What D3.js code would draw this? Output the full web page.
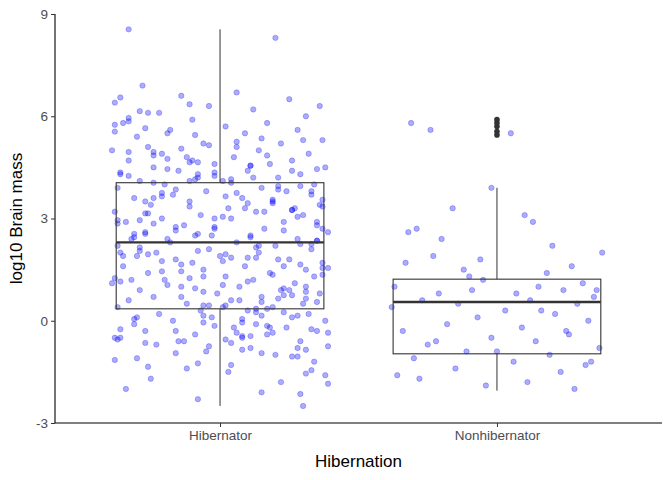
<!DOCTYPE html><html><head><script src="https://cdn.jsdelivr.net/npm/d3@7"></script>
<style>body{margin:0;background:#fff}text{font-family:"Liberation Sans",Arial,sans-serif}</style></head><body><svg id="c" width="672" height="480"></svg>
<script>
const categories=["Hibernator","Nonhibernator"];
const yTicks=[-3,0,3,6,9];
const boxStats=[[-2.5,0.35,2.3,4.05,8.55],[-2.05,-0.97,0.55,1.22,3.9]];
const outliers=[[],[5.9,5.8,5.7,5.55,5.45]];
const hibY=[8.55,8.3,6.9,6.7,6.6,6.5,6.4,6.3,6.3,6.2,6.1,6.0,5.9,5.8,5.8,5.7,5.6,5.5,5.5,5.4,5.3,5.2,5.2,5.1,5.0,5.0,4.9,4.8,4.8,4.7,4.7,4.6,4.6,4.5,4.5,4.4,4.4,4.3,4.3,4.2,4.2,4.1,4.1,4.0,4.0,3.9,3.9,3.8,3.8,3.7,3.7,3.6,3.6,3.5,3.5,3.4,3.4,3.3,3.3,3.2,3.2,3.1,3.1,3.0,3.0,2.9,2.9,2.8,2.8,2.7,2.7,2.6,2.6,2.5,2.5,2.4,2.4,2.3,2.3,2.2,2.2,2.1,2.1,2.0,2.0,1.9,1.9,1.8,1.8,1.7,1.7,1.6,1.6,1.5,1.5,1.4,1.4,1.3,1.3,1.2,1.2,1.1,1.1,1.0,1.0,0.9,0.9,0.8,0.8,0.7,0.7,0.6,0.6,0.5,0.5,0.4,0.4,0.3,0.3,0.2,0.2,0.1,0.1,0.0,0.0,-0.1,-0.1,-0.2,-0.2,-0.3,-0.3,-0.4,-0.4,-0.5,-0.5,-0.6,-0.6,-0.7,-0.8,-0.9,-1.0,-1.1,-1.2,-1.4,-1.5,-1.7,-1.8,-2.0,-2.1,-2.3,-2.5,5.6,5.1,4.9,4.4,4.1,3.8,3.5,3.3,3.0,2.7,2.4,2.2,1.9,1.6,1.3,1.0,0.7,0.4,0.1,-0.2,-0.5,-0.8,4.7,4.2,3.6,2.9,2.5,1.8,1.2,0.6,-0.3,6.1,5.3,4.3,3.2,2.0,0.9,-0.6,-1.3,-1.6];
const hibY2=[4.55,3.15,2.35,0.45,-0.35,5.75,1.85,3.95,-0.95,2.65,4.25,0.05,1.45,3.55,-0.15,5.35,2.95,0.85,4.65,-0.55,1.15,3.25,2.05,0.25,4.85,-0.75,1.65,3.75,2.45,0.65,5.15,-0.25,1.05,3.45,2.85,-1.05,4.15,0.35,1.95,3.05,-0.45,2.55,4.45,0.15,1.35,5.55,-0.65,2.25,3.85,0.95,4.95,-0.05,1.75,3.35,2.75,0.55,6.15,-0.85,1.25,3.65,4.35,0.75,-1.25,2.15,4.05,1.55,5.05,-0.35,2.55,3.95,0.45,-1.45,4.75,1.85,2.95,0.15,5.45,-0.15,3.15,1.05,4.55,-0.65,2.35,0.85,3.55,-1.15,4.15,1.65,2.65,0.25,5.85,-0.45,3.75,1.35,4.25,-0.95,2.05,0.65,6.35,1.95,-0.25,3.25,4.65,0.35,2.85,-1.85,1.45,5.25,0.05,3.85,-0.75,2.25,4.45,1.15,-0.55,3.05,0.95,4.85,-1.35,1.75,2.45,5.65,0.55,-0.05,3.45,1.25,4.05,-2.15,2.75,0.75,5.95,-0.85,3.65,1.55,4.35,0.15,2.15,-1.55,3.35,0.45,6.55,-1.05,2.55,1.85,4.95,-0.35];
const hibJ=[-0.33,0.2,-0.28,0.06,-0.14,0.25,-0.38,0.36,-0.04,0.12,-0.22,0.31,-0.1,0.17,-0.35,0.02,0.28,-0.19,0.09,-0.3,0.37,-0.06,0.22,-0.26,0.14,-0.39,0.32,-0.12,0.05,-0.33,0.26,-0.02,0.18,-0.24,0.38,-0.15,0.1,-0.36,0.29,-0.08,0.21,-0.29,0.01,0.34,-0.2,0.15,-0.37,0.24,-0.05,0.33,-0.17,0.08,-0.31,0.19,-0.11,0.36,-0.25,0.03,0.27,-0.38,0.13,-0.07,0.3,-0.21,0.04,-0.34,0.23,-0.13,0.35,-0.02,0.16,-0.27,0.39,-0.09,0.11,-0.32,0.28,-0.18,0.06,-0.37,0.2,-0.04,0.33,-0.23,0.14,-0.3,0.0,0.25,-0.16,0.37,-0.1,0.09,-0.35,0.31,-0.06,0.18,-0.26,0.02,0.34,-0.2,0.12,-0.39,0.27,-0.14,0.07,-0.29,0.22,-0.01,0.36,-0.24,0.15,-0.33,0.04,0.3,-0.12,0.19,-0.37,0.1,-0.07,0.32,-0.22,0.26,-0.03,0.38,-0.17,0.13,-0.31,0.05,0.24,-0.27,0.35,-0.09,0.17,-0.36,0.08,-0.15,0.29,-0.23,0.11,-0.05,0.2,-0.3,0.34,-0.12,0.03,-0.25,0.22,-0.34,0.15,-0.08,0.3,-0.18,0.06,-0.21,0.26,-0.11,0.33,-0.27,0.09,-0.02,0.37,-0.19,0.14,-0.35,0.23,-0.06,0.31,-0.14,0.01,-0.3,0.18,-0.38,0.28,-0.1,0.12,-0.24,0.35,-0.03,0.21,-0.32,0.07,-0.16,-0.26,0.3,-0.08,0.16,-0.36,0.25,-0.13,0.04,0.38,0.34,-0.2,0.1,-0.29,0.27,-0.05,0.2,-0.37,0.08];
const hibJ2=[0.11,-0.27,0.35,-0.06,0.19,-0.38,0.04,0.29,-0.16,0.23,-0.33,0.08,-0.21,0.37,-0.02,0.15,-0.29,0.31,-0.11,0.02,-0.36,0.26,-0.08,0.13,-0.24,0.39,-0.14,0.06,-0.31,0.21,-0.04,0.33,-0.19,0.1,-0.37,0.28,-0.09,0.17,-0.26,0.01];
const nonY=[5.8,5.6,5.5,3.9,3.3,3.1,2.9,2.7,2.6,2.4,2.0,1.9,1.7,1.6,1.5,1.4,1.2,1.1,1.0,1.0,0.9,0.9,0.8,0.8,0.7,0.6,0.6,0.5,0.5,0.4,0.3,0.2,0.1,0.0,-0.1,-0.2,-0.3,-0.4,-0.5,-0.6,-0.7,-0.8,-0.9,-1.0,-1.1,-1.2,-1.3,-1.4,-1.5,-1.6,-1.8,-1.9,-2.0,-1.2,-0.6,0.3,1.3,2.2,-1.7,0.9,-0.9,1.8,-0.3];
const nonJ=[-0.31,-0.24,0.05,-0.02,-0.16,0.1,0.13,-0.29,-0.32,-0.2,0.38,-0.23,-0.33,0.27,-0.12,0.18,-0.05,0.31,-0.37,0.15,-0.09,0.24,-0.21,0.07,0.35,-0.27,0.12,-0.14,0.29,-0.38,0.03,0.21,-0.07,0.33,-0.18,0.09,-0.34,0.26,-0.02,0.14,-0.25,0.37,-0.11,0.19,-0.3,0.06,0.32,-0.15,0.23,-0.36,0.11,-0.04,0.28,0.34,-0.22,0.16,-0.1,0.2,-0.28,0.36,0.0,-0.06,0.25];
const svg=d3.select("#c"),W=672,H=480,m={l:55,r:10,t:14,b:57};
const y=d3.scaleLinear().domain([-3,9]).range([H-m.b,m.t]);
const x=d3.scalePoint().domain(categories).range([m.l,W-m.r]).padding(0.596);
const step=x.step();
const pts=[];
hibY.forEach((v,i)=>pts.push({c:0,y:v,j:hibJ[i%hibJ.length]}));
hibY2.forEach((v,i)=>pts.push({c:0,y:v,j:hibJ2[i%hibJ2.length]}));
nonY.forEach((v,i)=>pts.push({c:1,y:v,j:nonJ[i%nonJ.length]}));
svg.append("g").selectAll("circle").data(pts).join("circle")
 .attr("cx",d=>x(categories[d.c])+d.j*step).attr("cy",d=>y(d.y)).attr("r",2.7)
 .attr("fill","rgba(0,0,255,0.33)").attr("stroke","rgba(0,0,220,0.4)").attr("stroke-width",0.6);
const bw=0.75*step;
boxStats.forEach((s,i)=>{
 const cx=x(categories[i]),g=svg.append("g").attr("stroke","#333").attr("fill","none");
 g.append("line").attr("x1",cx).attr("x2",cx).attr("y1",y(s[0])).attr("y2",y(s[1]));
 g.append("line").attr("x1",cx).attr("x2",cx).attr("y1",y(s[3])).attr("y2",y(s[4]));
 g.append("rect").attr("x",cx-bw/2).attr("width",bw).attr("y",y(s[3])).attr("height",y(s[1])-y(s[3])).attr("stroke-width",1.1);
 g.append("line").attr("x1",cx-bw/2).attr("x2",cx+bw/2).attr("y1",y(s[2])).attr("y2",y(s[2])).attr("stroke-width",2.3);
 outliers[i].forEach(o=>svg.append("circle").attr("cx",cx).attr("cy",y(o)).attr("r",2.8).attr("fill","#333"));
});
const ya=svg.append("g").attr("transform",`translate(${m.l},0)`).call(d3.axisLeft(y).tickValues(yTicks).tickSize(4).tickFormat(d=>String(d)));
const xa=svg.append("g").attr("transform",`translate(0,${H-m.b})`).call(d3.axisBottom(x).tickSize(4).tickSizeOuter(0));
[ya,xa].forEach(a=>{a.select(".domain").attr("stroke","#000").attr("stroke-width",1.1);a.selectAll(".tick line").attr("stroke","#333");a.selectAll("text").attr("fill","#4d4d4d").style("font-size","13.5px");});
ya.select(".domain").attr("d",`M0,${y(-3)}V${m.t}`);
xa.select(".domain").attr("d",`M${m.l},0H${W-m.r}`);
svg.append("text").attr("x",(m.l+W-m.r)/2).attr("y",H-13).attr("text-anchor","middle").style("font-size","17px").text("Hibernation");
svg.append("text").attr("transform",`translate(22,${(m.t+H-m.b)/2}) rotate(-90)`).attr("text-anchor","middle").style("font-size","17px").text("log10 Brain mass");
</script></body></html>
